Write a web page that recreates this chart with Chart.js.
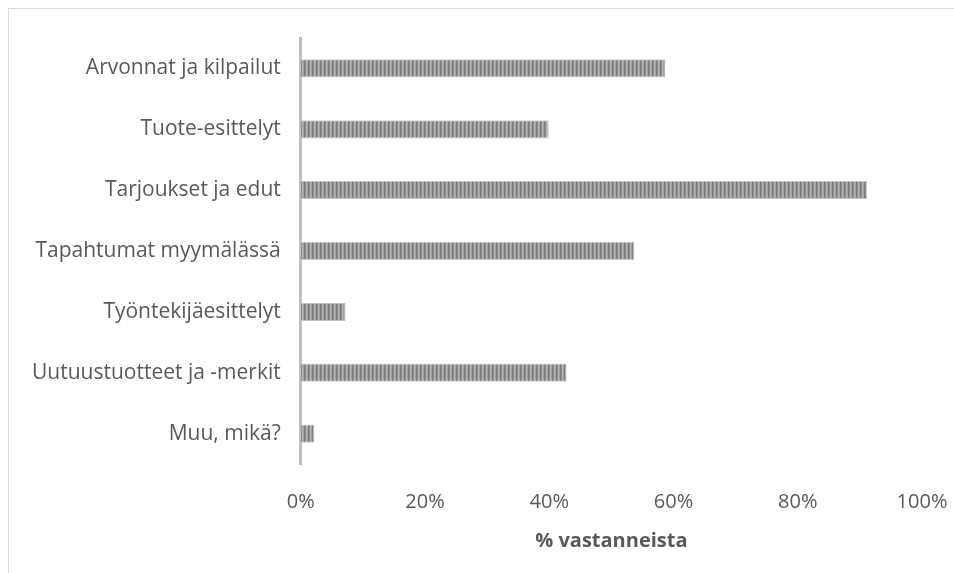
<!DOCTYPE html>
<html>
<head>
<meta charset="utf-8">
<script src="https://cdn.jsdelivr.net/npm/chart.js@4"></script>
<style>
  html, body { margin: 0; padding: 0; background: #fff; overflow: hidden; }
  #wrap { position: relative; width: 954px; height: 573px; }
  #frame { position: absolute; left: 8px; top: 8px; width: 1000px; height: 600px;
           border-top: 1px solid #d9d9d9; border-left: 1px solid #d9d9d9; }
  canvas { position: absolute; left: 0; top: 0; }
</style>
</head>
<body>
<div id="wrap">
  <div id="frame"></div>
  <canvas id="mainChart" width="954" height="573"></canvas>
</div>
<script>
const categories = [
  'Arvonnat ja kilpailut',
  'Tuote-esittelyt',
  'Tarjoukset ja edut',
  'Tapahtumat myymälässä',
  'Työntekijäesittelyt',
  'Uutuustuotteet ja -merkit',
  'Muu, mikä?'
];
const shares = [58.7, 39.9, 91.2, 53.7, 7.2, 42.8, 2.2];
const xTicks = [0, 20, 40, 60, 80, 100];
const axisTitle = '% vastanneista';

// vertical striped fill for the bars
function stripePattern(ctx) {
  const tile = document.createElement('canvas');
  const shades = ['#7c7c7c', '#8e8e8e', '#b4b4b4', '#a2a2a2'];
  tile.width = shades.length;
  tile.height = 1;
  const t = tile.getContext('2d');
  shades.forEach((c, i) => { t.fillStyle = c; t.fillRect(i, 0, 1, 1); });
  return ctx.createPattern(tile, 'repeat');
}

const ctx = document.getElementById('mainChart').getContext('2d');
const font = "'Open Sans', sans-serif";

new Chart(ctx, {
  type: 'bar',
  data: {
    labels: categories,
    datasets: [{
      data: shares,
      backgroundColor: stripePattern(ctx),
      borderColor: '#c4c4c4',
      borderWidth: 1,
      borderSkipped: 'left',
      categoryPercentage: 1,
      barPercentage: 0.3
    }]
  },
  options: {
    indexAxis: 'y',
    responsive: false,
    animation: false,
    layout: { padding: { left: 20, right: 0, top: 38, bottom: 20 } },
    plugins: { legend: { display: false }, tooltip: { enabled: false } },
    scales: {
      x: {
        min: 0,
        max: 100,
        afterBuildTicks: (axis) => { axis.ticks = xTicks.map(v => ({ value: v })); },
        // leave just enough room on the right for the "100%" label
        afterFit: (axis) => { axis.paddingRight = 32; },
        ticks: {
          callback: (v) => v + '%',
          color: '#595959',
          padding: 18,
          font: { family: font, size: 20 }
        },
        grid: { display: false },
        border: { display: false },
        title: {
          display: true,
          text: axisTitle,
          color: '#595959',
          padding: { top: -3, bottom: 0 },
          font: { family: font, size: 20, weight: 'bold' }
        }
      },
      y: {
        ticks: {
          color: '#595959',
          padding: 12,
          font: { family: font, size: 21 }
        },
        grid: { display: false },
        border: { display: true, color: '#bfbfbf', width: 3 }
      }
    }
  }
});
</script>
</body>
</html>
